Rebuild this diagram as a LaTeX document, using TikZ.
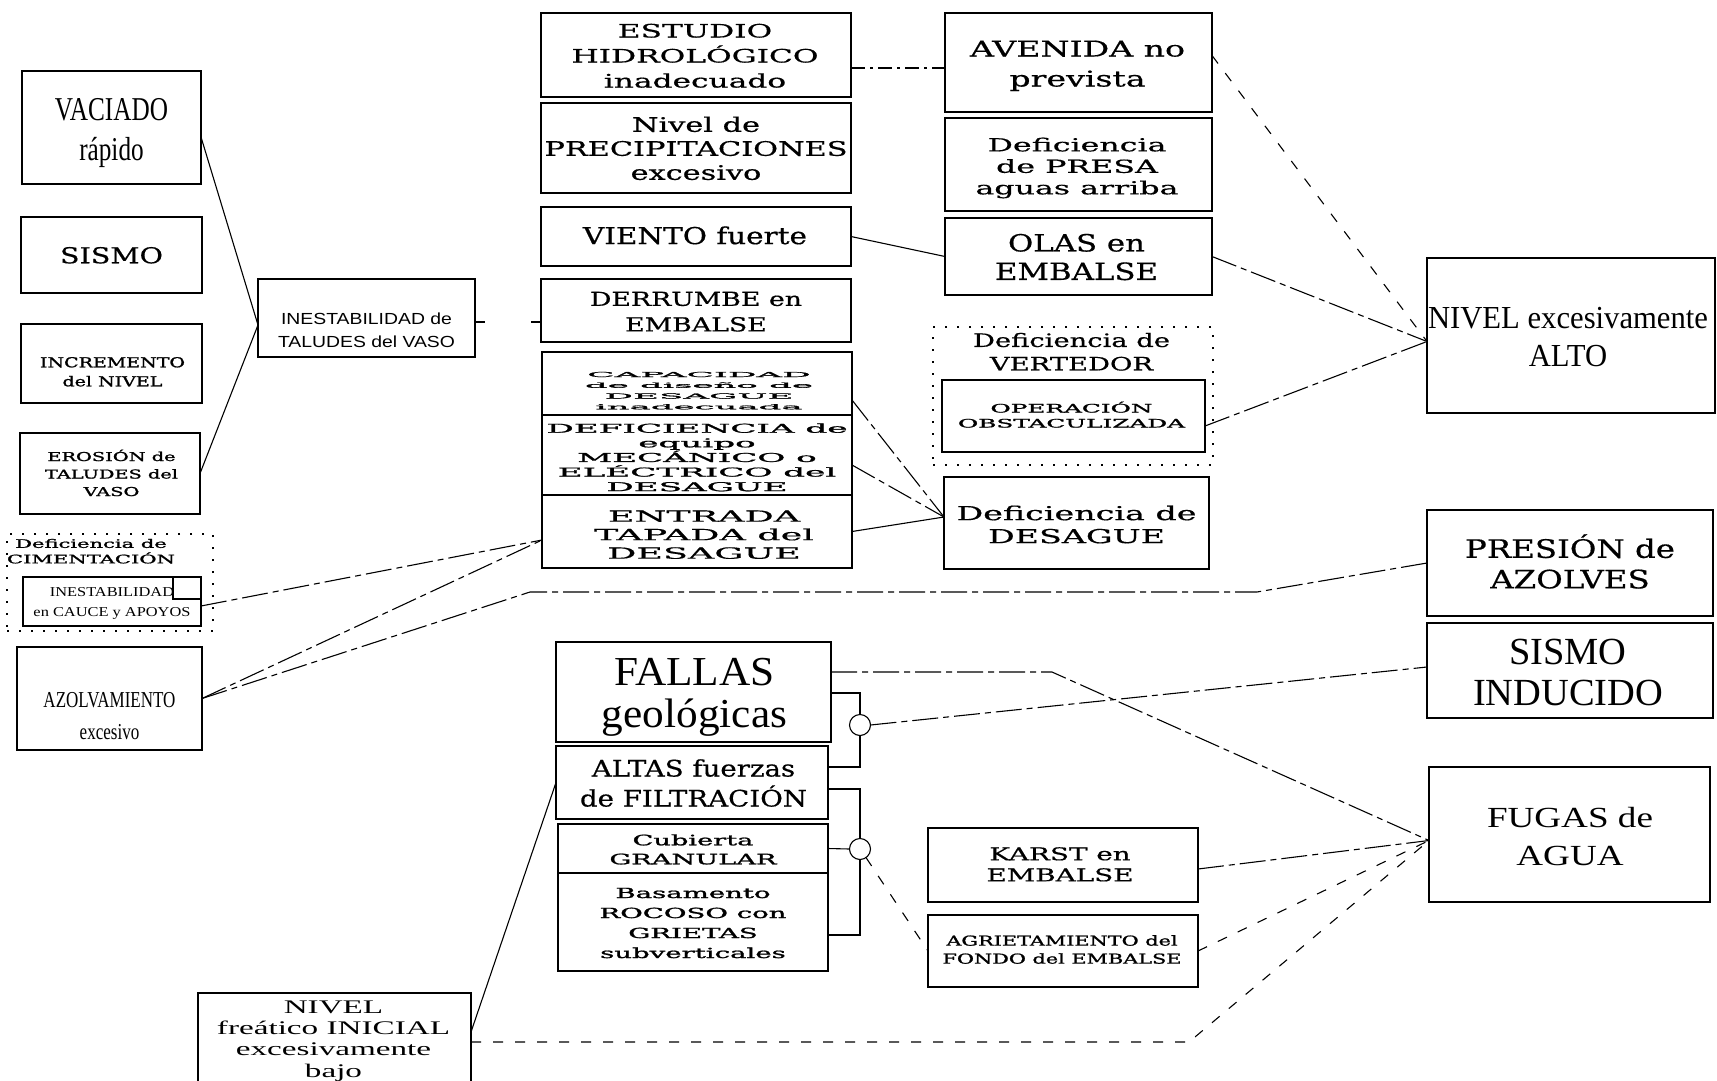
\documentclass[tikz,border=0pt]{standalone}
\usepackage{fontspec}
\usepackage{graphicx}
\usetikzlibrary{calc}
\newfontfamily\fLib{Liberation Serif}
\newfontfamily\fDV[FakeBold=0.5]{DejaVu Serif}
\newfontfamily\fDVb[FakeBold=1.2]{DejaVu Serif}
\newfontfamily\fLS{Liberation Sans}
\newcommand{\fitt}[5][1]{\resizebox*{#2pt}{#3pt}{#4\fontsize{10}{12}\selectfont\renewcommand{\arraystretch}{#1}\begin{tabular}{@{}c@{}}#5\end{tabular}}}
\begin{document}
\begin{tikzpicture}[x=1pt,y=-1pt,
 box/.style={draw,line width=1.3pt,inner sep=0pt,outer sep=0pt,rectangle},
 dotbox/.style={draw,line width=2pt,dash pattern=on 2pt off 10pt,inner sep=0pt,outer sep=0pt,rectangle},
 lbl/.style={inner sep=0pt,outer sep=0pt},
 ring/.style={draw,circle,line width=1.1pt,minimum size=21pt,inner sep=0pt,outer sep=0pt},
 con/.style={line width=1.1pt},
 conL/.style={line width=1.1pt,dash pattern=on 26pt off 5pt on 6pt off 5pt},
 conD/.style={line width=1.1pt,dash pattern=on 14pt off 5pt on 3pt off 5pt},
 conS/.style={line width=1.1pt,dash pattern=on 10pt off 12pt},
 conF/.style={line width=1.1pt,dash pattern=on 10pt off 46pt}]
\clip (0,0) rectangle (1717,1080);
\fill[white] (0,0) rectangle (1717,1080);

% left column
\node[box,minimum width=179,minimum height=113,label={[lbl,shift={(0,5)}]center:{\fitt{113}{80}{\fLib}{VACIADO\\rápido}}}] (vac) at (111.5,127.5) {};
\node[box,minimum width=181,minimum height=76,label={[lbl,shift={(0,3)}]center:{\fitt{103}{26.3}{\fDV}{SISMO}}}] (sismo) at (111.5,255) {};
\node[box,minimum width=181,minimum height=79,label={[lbl,shift={(1,9.5)}]center:{\fitt[1.15]{145}{38}{\fDVb}{INCREMENTO\\del NIVEL}}}] (incr) at (111.5,363.5) {};
\node[box,minimum width=180,minimum height=81,label={[lbl,shift={(1.5,1.5)}]center:{\fitt[1.19]{133}{52.5}{\fDVb}{\smash{EROSIÓN de}\\TALUDES del\\VASO}}}] (eros) at (110,473.5) {};
\node[dotbox,minimum width=206,minimum height=97,label={[lbl,shift={(-19,-30)}]center:{\fitt[1.1]{168}{31}{\fDVb}{Deficiencia de\\\smash{CIMENTACIÓN}}}}] (cim) at (110,582.5) {};
\node[box,minimum width=178,minimum height=49,label={[lbl,shift={(0,0.5)}]center:{\fitt[1.23]{157}{40}{\fLib}{INESTABILIDAD\\en CAUCE y APOYOS}}}] (cauce) at (112,601.5) {};
\draw[line width=1.2pt] (173,577) rectangle (201,599);
\node[box,minimum width=185,minimum height=103,label={[lbl,shift={(0,18.5)}]center:{\fitt[1.17]{132}{64}{\fLib}{AZOLVAMIENTO\\excesivo}}}] (azol) at (109.5,698.5) {};
\node[box,minimum width=217,minimum height=78,label={[lbl,shift={(0,13.5)}]center:{\fitt[1.22]{177}{47}{\fLS}{INESTABILIDAD de\\TALUDES del VASO}}}] (talud) at (366.5,318) {};
\node[box,minimum width=273,minimum height=102,label={[lbl,shift={(-1,-3)}]center:{\fitt[0.92]{233}{85}{\fLib}{NIVEL\\freático INICIAL\\excesivamente\\bajo}}}] (nivfre) at (334.5,1044) {};

% middle column
\node[box,minimum width=310,minimum height=84,label={[lbl,shift={(-1,2.5)}]center:{\fitt[1.125]{247}{75}{\fDV}{ESTUDIO\\\smash{HIDROLÓGICO}\\inadecuado}}}] (est) at (696,55) {};
\node[box,minimum width=310,minimum height=90,label={[lbl,shift={(0,3)}]center:{\fitt{303}{72}{\fDV}{Nivel de\\PRECIPITACIONES\\excesivo}}}] (prec) at (696,148) {};
\node[box,minimum width=310,minimum height=59,label={[lbl,shift={(-1,2)}]center:{\fitt{224}{28}{\fDV}{VIENTO fuerte}}}] (viento) at (696,236.5) {};
\node[box,minimum width=310,minimum height=63,label={[lbl,shift={(0,3)}]center:{\fitt[1.1]{212}{51}{\fDV}{DERRUMBE en\\EMBALSE}}}] (derr) at (696,310.5) {};
\node[box,minimum width=310,minimum height=63,label={[lbl,shift={(2,7.5)}]center:{\fitt[1.3]{228}{43}{\fDVb}{CAPACIDAD\\de diseño de\\DESAGUE\\inadecuada}}}] (cap) at (697,383.5) {};
\node[box,minimum width=310,minimum height=80,label={[lbl,shift={(0,4)}]center:{\fitt{301}{73}{\fDVb}{DEFICIENCIA de\\equipo\\\smash{MECÁNICO o}\\\smash{ELÉCTRICO del}\\DESAGUE}}}] (defeq) at (697,455) {};
\node[box,minimum width=310,minimum height=73,label={[lbl,shift={(7,5)}]center:{\fitt{220}{55.5}{\fDV}{ENTRADA\\TAPADA del\\DESAGUE}}}] (entr) at (697,531.5) {};
\node[box,minimum width=275,minimum height=100,label={[lbl,shift={(1,6)}]center:{\fitt[0.84]{185}{83}{\fLib}{FALLAS\\geológicas}}}] (fallas) at (693.5,692) {};
\node[box,minimum width=272,minimum height=73,label={[lbl,shift={(1.5,3)}]center:{\fitt[1.1]{227}{60}{\fDV}{ALTAS fuerzas\\\smash{de FILTRACIÓN}}}}] (altas) at (692,782.5) {};
\node[box,minimum width=270,minimum height=49,label={[lbl,shift={(0,2.5)}]center:{\fitt[1.1]{167}{38}{\fDVb}{Cubierta\\GRANULAR}}}] (cub) at (693,848.5) {};
\node[box,minimum width=270,minimum height=98,label={[lbl,shift={(0,2)}]center:{\fitt[1.2]{187}{80}{\fDVb}{Basamento\\ROCOSO con\\GRIETAS\\subverticales}}}] (bas) at (693,922) {};

% right-middle column
\node[box,minimum width=267,minimum height=99,label={[lbl,shift={(-1,3)}]center:{\fitt[1.15]{215}{60}{\fDV}{AVENIDA no\\prevista}}}] (aven) at (1078.5,62.5) {};
\node[box,minimum width=267,minimum height=93,label={[lbl,shift={(-1.5,4)}]center:{\fitt{203}{64.5}{\fDV}{Deficiencia\\de PRESA\\aguas arriba}}}] (presa) at (1078.5,164.5) {};
\node[box,minimum width=267,minimum height=77,label={[lbl,shift={(-2,3.5)}]center:{\fitt{163}{57}{\fDV}{OLAS en\\EMBALSE}}}] (olas) at (1078.5,256.5) {};
\node[dotbox,minimum width=280,minimum height=138,label={[lbl,shift={(-1.5,-42)}]center:{\fitt[1.06]{197}{47}{\fDV}{Deficiencia de\\VERTEDOR}}}] (vert) at (1073,396) {};
\node[box,minimum width=263,minimum height=72,label={[lbl,shift={(-2,1)}]center:{\fitt[1.07]{227}{30}{\fDVb}{\smash{OPERACIÓN}\\OBSTACULIZADA}}}] (oper) at (1073.5,416) {};
\node[box,minimum width=265,minimum height=92,label={[lbl,shift={(0,4)}]center:{\fitt{240}{46}{\fDV}{Deficiencia de\\DESAGUE}}}] (desag) at (1076.5,523) {};
\node[box,minimum width=270,minimum height=74,label={[lbl,shift={(-3,1.5)}]center:{\fitt{147}{42}{\fDV}{KARST en\\EMBALSE}}}] (karst) at (1063,865) {};
\node[box,minimum width=270,minimum height=72,label={[lbl,shift={(-1,0)}]center:{\fitt[1.1]{239}{36}{\fDVb}{AGRIETAMIENTO del\\FONDO del EMBALSE}}}] (agri) at (1063,951) {};

% right column
\node[box,minimum width=288,minimum height=155,label={[lbl,shift={(-3,4.5)}]center:{\fitt{280}{77}{\fLib}{NIVEL excesivamente\\ALTO}}}] (alto) at (1571,335.5) {};
\node[box,minimum width=286,minimum height=106,label={[lbl,shift={(0,4)}]center:{\fitt{210}{61}{\fDV}{\smash{PRESIÓN de}\\AZOLVES}}}] (pres) at (1570,563) {};
\node[box,minimum width=286,minimum height=95,label={[lbl,shift={(-2,6.5)}]center:{\fitt[0.88]{190}{81}{\fLib}{SISMO\\INDUCIDO}}}] (sind) at (1570,670.5) {};
\node[box,minimum width=281,minimum height=135,label={[lbl,shift={(0.5,4.5)}]center:{\fitt[1.1]{166}{77}{\fLib}{FUGAS de\\AGUA}}}] (fugas) at (1569.5,834.5) {};

% junction rings
\node[ring] (k1) at (860,725) {};
\node[ring] (k2) at (860,849) {};

% waypoints
\coordinate (w1) at (530,592);
\coordinate (w2) at (1257,592);
\coordinate (w3) at (1052,672);
\coordinate (w4) at (1189,1042);

% connectors
\draw[con] ($(vac.east)+(0,9.5)$) -- ($(talud.west)+(0,7)$);
\draw[con] (eros.east) -- ($(talud.west)+(0,7)$);
\draw[conF] ($(talud.east)+(0,4)$) -- ($(derr.west)+(0,11.5)$);
\draw[conL] ($(cauce.east)+(0,4.5)$) -- ($(entr.west)+(0,8.5)$);
\draw[conL] (azol.east) -- ($(entr.west)+(0,8.5)$);
\draw[conL] (azol.east) -- (w1) -- (w2) -- (pres.west);
\draw[conD] ($(est.east)+(0,13)$) -- ($(aven.west)+(0,5.5)$);
\draw[con] (viento.east) -- (olas.west);
\draw[conL] ($(cap.east)+(0,16.5)$) -- ($(desag.west)+(0,-6)$);
\draw[conL] ($(defeq.east)+(0,10)$) -- ($(desag.west)+(0,-6)$);
\draw[con] (entr.east) -- ($(desag.west)+(0,-6)$);
\draw[conS] ($(aven.east)+(0,-7)$) -- ($(alto.west)+(0,6)$);
\draw[conL] (olas.east) -- ($(alto.west)+(0,6)$);
\draw[conL] ($(oper.east)+(0,10)$) -- ($(alto.west)+(0,6)$);
\draw[conL] ($(fallas.east)+(0,-20)$) -- (w3) -- ($(fugas.west)+(0,6)$);
\draw[con] ($(fallas.east)+(0,1)$) -| (k1.north);
\draw[con] (k1.south) |- ($(altas.east)+(0,-15.5)$);
\draw[con] ($(altas.east)+(0,6.5)$) -| (k2.north);
\draw[con] (k2.south) |- ($(bas.east)+(0,13)$);
\draw[con] (cub.east) -- (k2.west);
\draw[conL] (k1.east) -- ($(sind.west)+(0,-3.5)$);
\draw[conS] (k2.-55) -- (agri.west);
\draw[conL] ($(karst.east)+(0,4)$) -- ($(fugas.west)+(0,6)$);
\draw[conS] (agri.east) -- ($(fugas.west)+(0,6)$);
\draw[con] ($(nivfre.east)+(0,-12)$) -- (altas.west);
\draw[conS] ($(nivfre.east)+(0,-2)$) -- (w4) -- ($(fugas.west)+(0,6)$);
\end{tikzpicture}
\end{document}
